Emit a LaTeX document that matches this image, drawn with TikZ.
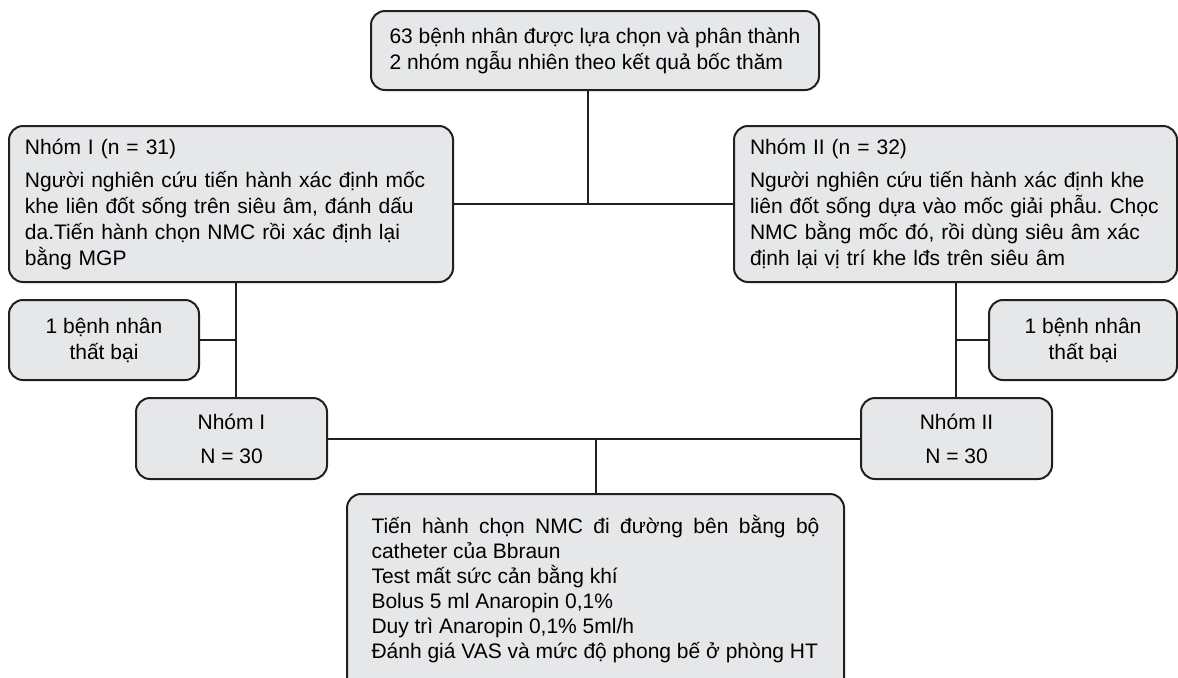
\documentclass[tikz,border=0pt]{standalone}
\usepackage{fontspec}
\setmainfont{Liberation Sans}
\usepackage{tikz}
\frenchspacing
\definecolor{boxfill}{HTML}{E6E7E8}
\definecolor{boxline}{HTML}{231F20}
\newcommand{\jline}[1]{\makebox[\hsize][s]{#1}}
\tikzset{
  flowbox/.style={draw=boxline, fill=boxfill, line width=1pt, rounded corners=7pt, inner xsep=8pt, anchor=north west, font=\fontsize{10.5}{13}\selectfont},
  link/.style={draw=boxline, line width=1pt}
}

\begin{document}
\begin{tikzpicture}[x=0.5pt,y=-0.5pt]
    \useasboundingbox (0,0) rectangle (1178,677);
    \node[flowbox, minimum width=224pt, minimum height=39.5pt, align=left] (start) at (370,10) {63 bệnh nhân được lựa chọn và phân thành\\2 nhóm ngẫu nhiên theo kết quả bốc thăm};
    \node[flowbox, text width=206pt, minimum height=78pt, align=left] (grpA) at (8,125) {Nhóm I (n = 31)\\[3.5pt]\jline{Người nghiên cứu tiến hành xác định mốc}\\\jline{khe liên đốt sống trên siêu âm, đánh dấu}\\\jline{da.Tiến hành chọn NMC rồi xác định lại}\\bằng MGP};
    \node[flowbox, text width=205.5pt, minimum height=78pt, align=left] (grpB) at (733,125) {Nhóm II (n = 32)\\[3.5pt]\jline{Người nghiên cứu tiến hành xác định khe}\\\jline{liên đốt sống dựa vào mốc giải phẫu. Chọc}\\\jline{NMC bằng mốc đó, rồi dùng siêu âm xác}\\định lại vị trí khe lđs trên siêu âm};
    \node[flowbox, minimum width=95pt, minimum height=40pt, align=center] (failA) at (8,299) {1 bệnh nhân\\thất bại};
    \node[flowbox, minimum width=94pt, minimum height=40pt, align=center] (failB) at (988,299) {1 bệnh nhân\\thất bại};
    \node[flowbox, minimum width=95.5pt, minimum height=40.5pt, align=center] (finA) at (135,397) {Nhóm I\\[4pt]N = 30};
    \node[flowbox, minimum width=95.5pt, minimum height=40.5pt, align=center] (finB) at (860,397) {Nhóm II\\[4pt]N = 30};
    \node[flowbox, minimum width=248.5pt, inner xsep=12.25pt, inner ysep=10.5pt, font=\fontsize{10.5}{12.5}\selectfont, align=left] (care) at (346,493) {\makebox[224pt][s]{Tiến hành chọn NMC đi đường bên bằng bộ}\\catheter của Bbraun\\Test mất sức cản bằng khí\\Bolus 5 ml Anaropin 0,1\%\\Duy trì Anaropin 0,1\% 5ml/h\\Đánh giá VAS và mức độ phong bế ở phòng HT\rule[-10pt]{0pt}{0pt}};
    \coordinate (jTop) at ([xshift=-3.5pt]start.south);
    \coordinate (jA) at ([xshift=2.5pt]grpA.south);
    \draw[link] (jTop) -- (jTop |- grpA.east);
    \draw[link] (grpA.east) -- (grpB.west);
    \draw[link] (jA) -- (jA |- finA.north);
    \draw[link] (failA.east) -- (failA.east -| jA);
    \draw[link] (grpB.south) -- (grpB.south |- finB.north);
    \draw[link] (failB.west) -- (failB.west -| grpB.south);
    \draw[link] (finA.east) -- (finB.west);
    \draw[link] (care.north) -- (care.north |- finA.east);
\end{tikzpicture}
\end{document}
